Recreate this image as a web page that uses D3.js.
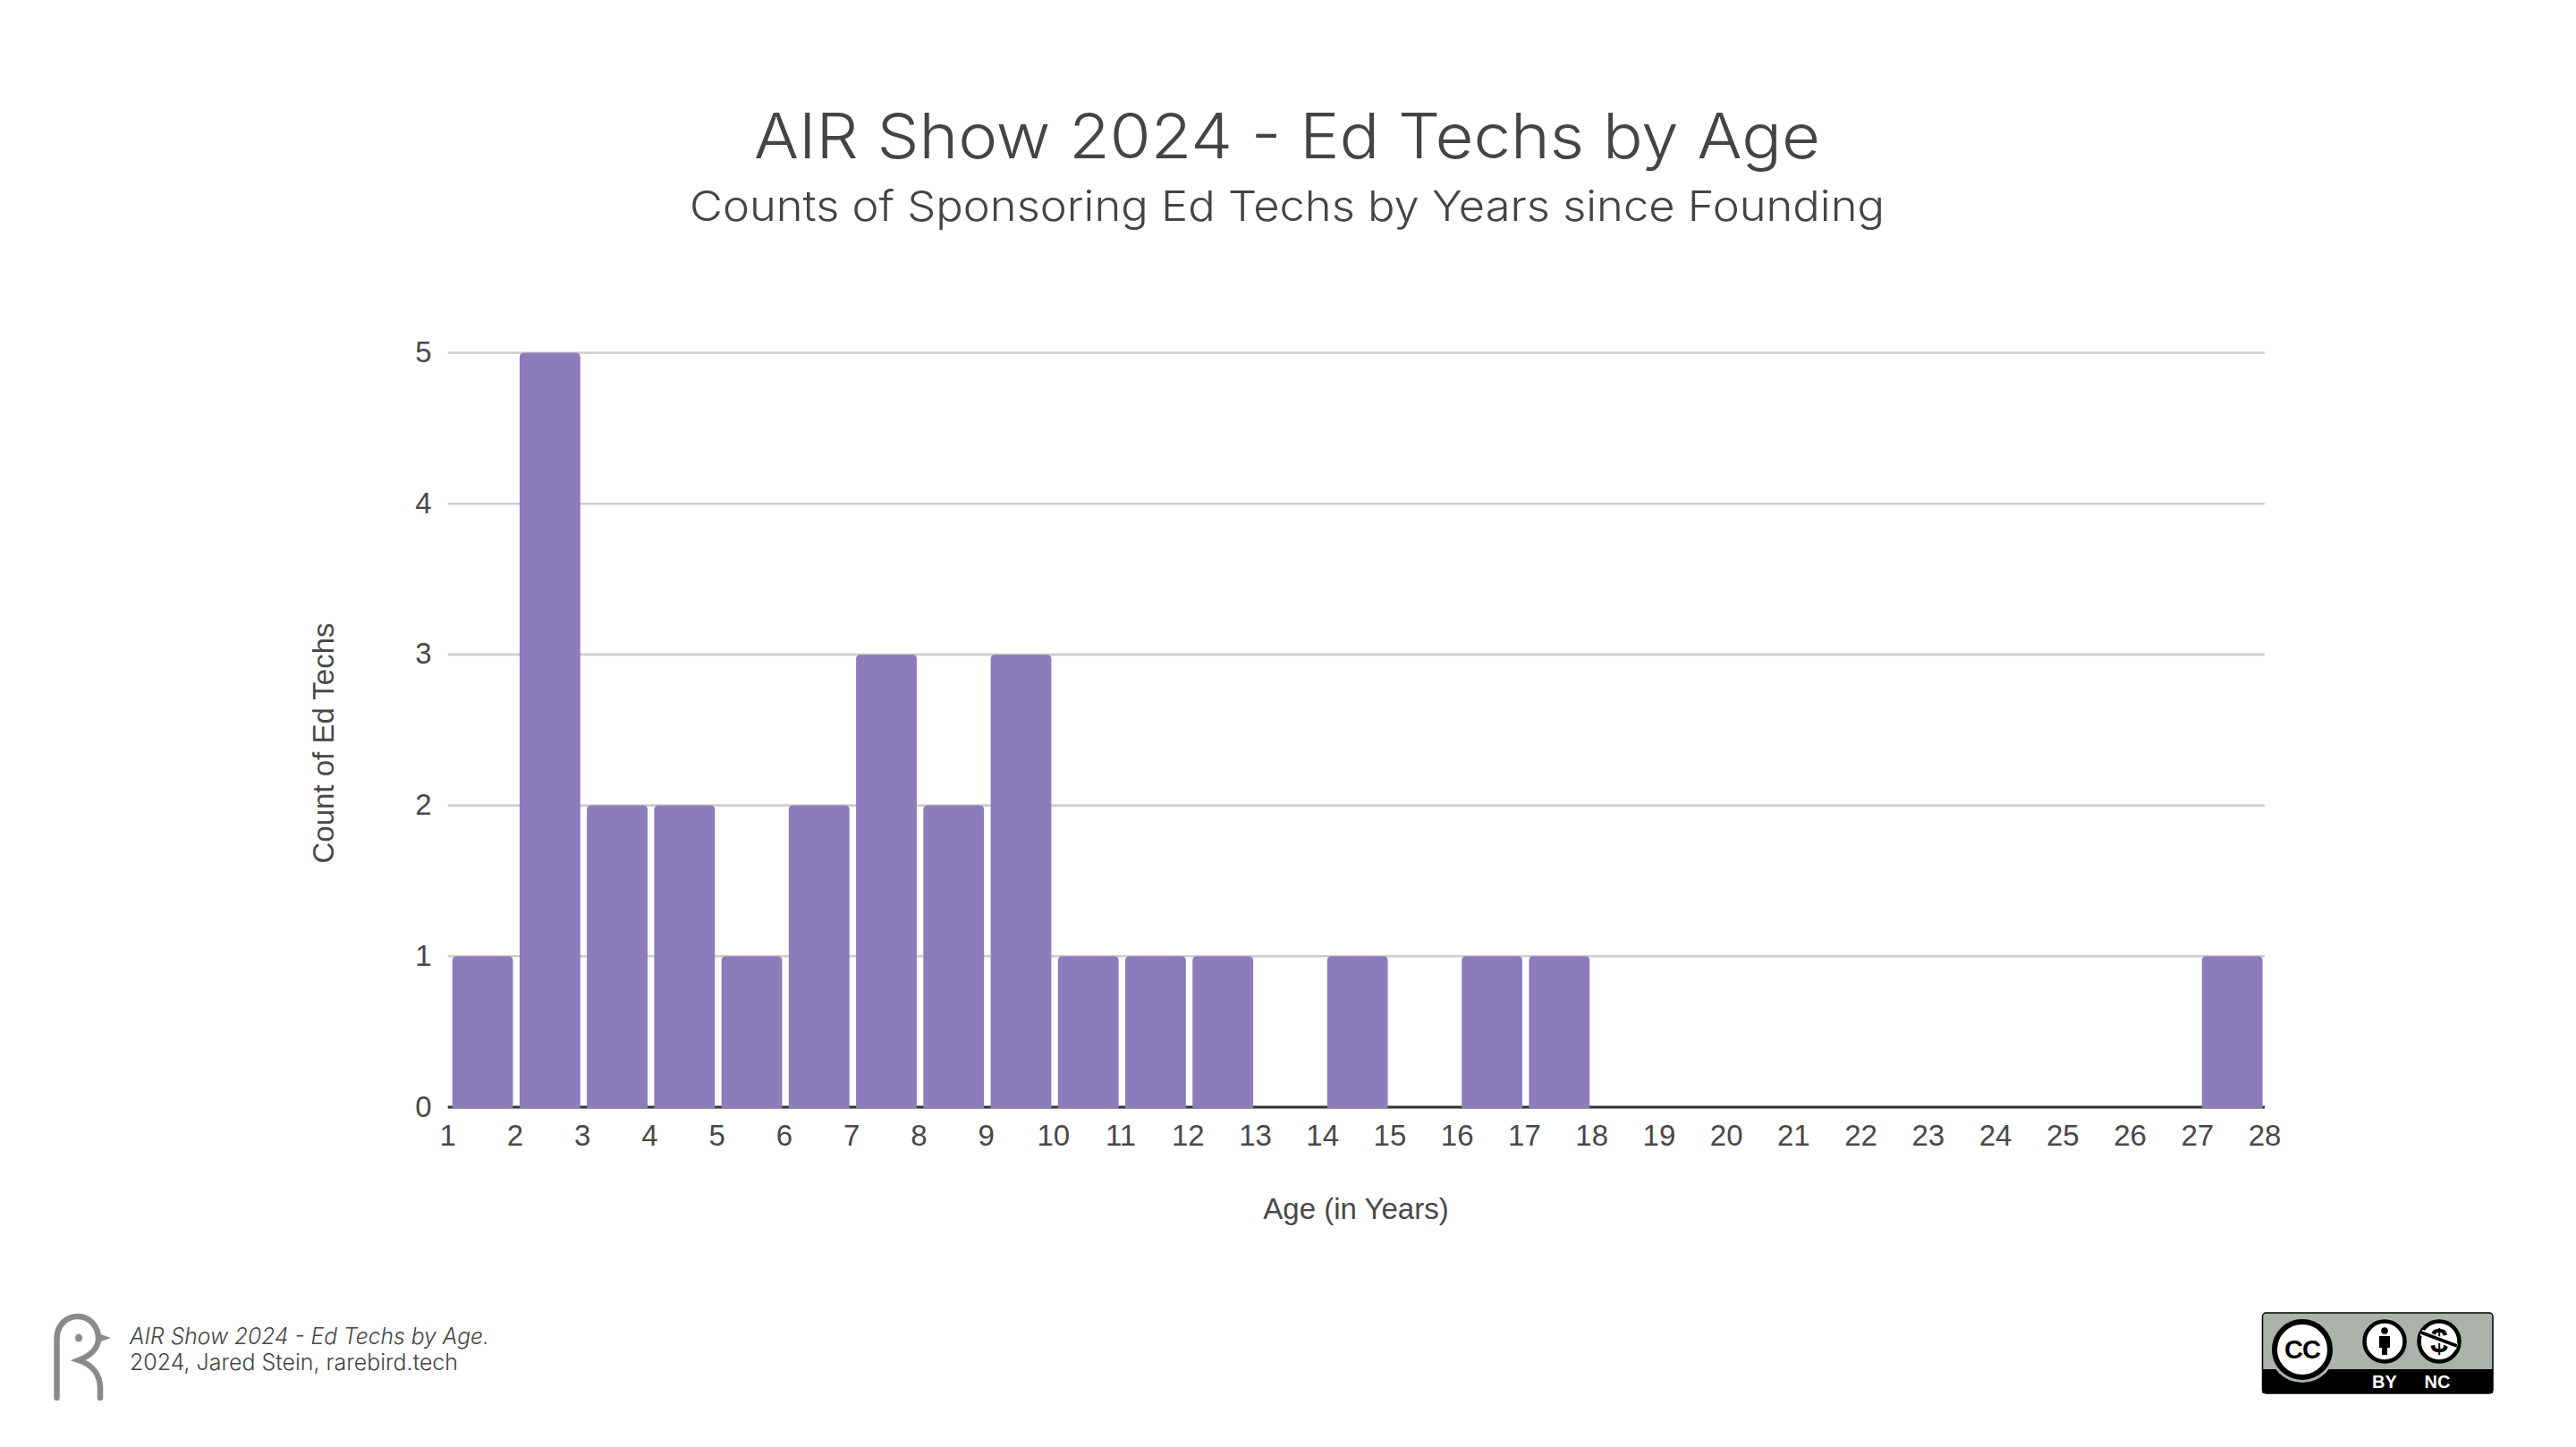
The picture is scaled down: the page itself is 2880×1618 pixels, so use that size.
<!DOCTYPE html>
<html>
<head>
<meta charset="utf-8">
<title>AIR Show 2024 - Ed Techs by Age</title>
<script src="https://cdn.jsdelivr.net/npm/d3@7"></script>
<style>
	html, body { margin: 0; padding: 0; background: #fff; }
	svg { display: block; }
	.heading { font-family: "Inter", sans-serif; font-weight: 300; fill: #444; }
	.axis text, .axis-label { font-family: "Liberation Sans", Arial, sans-serif; font-size: 33px; fill: #484848; }
	.credit { font-family: "Inter", sans-serif; font-weight: 300; font-size: 25px; fill: #444; }
	.badge-text { font-family: "Liberation Sans", Arial, sans-serif; font-weight: bold; }
</style>
</head>
<body>
<div id="chart-area"></div>
<script>
// Data: left edge of each one-year bin and its count
var ageBins = [1, 2, 3, 4, 5, 6, 7, 8, 9, 10, 11, 12, 13, 14, 15, 16, 17, 18, 19, 20, 21, 22, 23, 24, 25, 26, 27];
var edTechCounts = [1, 5, 2, 2, 1, 2, 3, 2, 3, 1, 1, 1, 0, 1, 0, 1, 1, 0, 0, 0, 0, 0, 0, 0, 0, 0, 1];
var xTickValues = [1, 2, 3, 4, 5, 6, 7, 8, 9, 10, 11, 12, 13, 14, 15, 16, 17, 18, 19, 20, 21, 22, 23, 24, 25, 26, 27, 28];
var yTickValues = [0, 1, 2, 3, 4, 5];

var chartTitle = "AIR Show 2024 - Ed Techs by Age";
var chartSubtitle = "Counts of Sponsoring Ed Techs by Years since Founding";
var xAxisLabel = "Age (in Years)";
var yAxisLabel = "Count of Ed Techs";
var creditLines = ["AIR Show 2024 - Ed Techs by Age.", "2024, Jared Stein, rarebird.tech"];

// SVG Size
var width = 2880,
	height = 1618;
var margin = {top: 394.5, right: 348, bottom: 380, left: 500.7};

var svg = d3.select("#chart-area").append("svg")
	.attr("width", width)
	.attr("height", height)
	.attr("viewBox", "0 0 " + width + " " + height);

// Title block
svg.append("text")
	.attr("class", "heading")
	.attr("x", 843)
	.attr("y", 177)
	.attr("font-size", 70)
	.attr("textLength", 1192)
	.attr("lengthAdjust", "spacingAndGlyphs")
	.text(chartTitle);
svg.append("text")
	.attr("class", "heading")
	.attr("x", 771)
	.attr("y", 247)
	.attr("font-size", 47)
	.attr("textLength", 1336)
	.attr("lengthAdjust", "spacingAndGlyphs")
	.text(chartSubtitle);

// Scales
var x = d3.scaleLinear()
	.domain([1, 28])
	.range([margin.left, width - margin.right]);
var y = d3.scaleLinear()
	.domain([0, 5])
	.range([height - margin.bottom, margin.top]);

// Gridlines and y labels
var yAxis = d3.axisLeft(y)
	.tickValues(yTickValues)
	.tickFormat(d3.format("d"))
	.tickSize(-(x.range()[1] - x.range()[0]))
	.tickPadding(18)
	.offset(0);
var yGroup = svg.append("g")
	.attr("class", "axis y-axis")
	.attr("transform", "translate(" + margin.left + ",0)")
	.call(yAxis);
yGroup.select(".domain").remove();
yGroup.selectAll(".tick line")
	.attr("stroke", "#cdcdcd")
	.attr("stroke-width", 2.6);

// x axis, the dark line along zero
var xAxis = d3.axisBottom(x)
	.tickValues(xTickValues)
	.tickFormat(d3.format("d"))
	.tickSize(0)
	.tickPadding(20)
	.offset(0);
var xGroup = svg.append("g")
	.attr("class", "axis x-axis")
	.attr("transform", "translate(0," + y(0) + ")")
	.call(xAxis);
xGroup.select(".domain")
	.attr("stroke", "#333")
	.attr("stroke-width", 3);

// Bars, rounded on the top corners only
var barInsetLeft = 5,
	barInsetRight = 2.4,
	barRadius = 5;
var barPath = function(d) {
	var x0 = x(d.age) + barInsetLeft,
		x1 = x(d.age + 1) - barInsetRight,
		top = y(d.count),
		bottom = y(0) + 1;
	return "M" + x0 + "," + bottom
		+ "V" + (top + barRadius)
		+ "Q" + x0 + "," + top + " " + (x0 + barRadius) + "," + top
		+ "H" + (x1 - barRadius)
		+ "Q" + x1 + "," + top + " " + x1 + "," + (top + barRadius)
		+ "V" + bottom + "Z";
};
var barData = ageBins.map(function(age, i) {
	return {age: age, count: edTechCounts[i]};
}).filter(function(d) {
	return d.count > 0;
});
svg.selectAll("path.bar")
	.data(barData)
	.enter()
	.append("path")
	.attr("class", "bar")
	.attr("d", barPath)
	.attr("fill", "#8c7cbc");

// Axis labels
svg.append("text")
	.attr("class", "axis-label")
	.attr("text-anchor", "middle")
	.attr("x", 1516)
	.attr("y", 1363)
	.text(xAxisLabel);
svg.append("text")
	.attr("class", "axis-label")
	.attr("text-anchor", "middle")
	.attr("transform", "translate(373,831) rotate(-90)")
	.text(yAxisLabel);

// Credit at bottom left
svg.append("text")
	.attr("class", "credit")
	.attr("x", 145)
	.attr("y", 1503)
	.attr("font-style", "italic")
	.attr("textLength", 402)
	.attr("lengthAdjust", "spacingAndGlyphs")
	.text(creditLines[0]);
svg.append("text")
	.attr("class", "credit")
	.attr("x", 145)
	.attr("y", 1532)
	.attr("textLength", 367)
	.attr("lengthAdjust", "spacingAndGlyphs")
	.text(creditLines[1]);

// Bird logo
var logo = svg.append("g").attr("fill", "none").attr("stroke", "#8a8a8a").attr("stroke-width", 6.5).attr("stroke-linecap", "round");
logo.append("path")
	.attr("d", "M63.5,1563V1497C63.5,1482 74,1472 87,1472C100,1472 110,1483 110,1497C110,1506 103,1515 88,1521C103,1526 112,1537 112,1552V1563");
svg.append("path").attr("d", "M110,1491L124,1496L110,1501Z").attr("fill", "#8a8a8a");
svg.append("ellipse").attr("cx", 88).attr("cy", 1496).attr("rx", 4).attr("ry", 4.5).attr("fill", "#8a8a8a");

// CC BY-NC badge
var badge = svg.append("g");
badge.append("rect").attr("x", 2529.5).attr("y", 1468).attr("width", 257.5).attr("height", 90).attr("rx", 4).attr("fill", "#aab2ab").attr("stroke", "#000").attr("stroke-width", 1.5);
badge.append("rect").attr("x", 2529.5).attr("y", 1531).attr("width", 257.5).attr("height", 27).attr("fill", "#000");
badge.append("circle").attr("cx", 2574).attr("cy", 1509).attr("r", 37).attr("fill", "#aab2ab");
badge.append("circle").attr("cx", 2574).attr("cy", 1509).attr("r", 31).attr("fill", "#fff").attr("stroke", "#000").attr("stroke-width", 6);
badge.append("text").attr("class", "badge-text").attr("x", 2574).attr("y", 1519).attr("text-anchor", "middle").attr("font-size", 29).attr("letter-spacing", -1).text("CC");
[2666, 2727].forEach(function(cx) {
	badge.append("circle").attr("cx", cx).attr("cy", 1500).attr("r", 22.5).attr("fill", "#fff").attr("stroke", "#000").attr("stroke-width", 4.5);
});
badge.append("circle").attr("cx", 2666).attr("cy", 1488).attr("r", 3.8).attr("fill", "#000");
badge.append("path").attr("d", "M2660,1494H2672V1507H2669V1515H2663V1507H2660Z").attr("fill", "#000");
badge.append("text").attr("class", "badge-text").attr("x", 2727).attr("y", 1512).attr("text-anchor", "middle").attr("font-size", 36).text("$");
badge.append("line").attr("x1", 2707).attr("y1", 1490).attr("x2", 2747).attr("y2", 1506).attr("stroke", "#fff").attr("stroke-width", 7);
badge.append("line").attr("x1", 2707).attr("y1", 1490).attr("x2", 2747).attr("y2", 1505).attr("stroke", "#000").attr("stroke-width", 3.5);
badge.append("text").attr("class", "badge-text").attr("x", 2666).attr("y", 1552).attr("text-anchor", "middle").attr("font-size", 20).attr("fill", "#fff").text("BY");
badge.append("text").attr("class", "badge-text").attr("x", 2725).attr("y", 1552).attr("text-anchor", "middle").attr("font-size", 20).attr("fill", "#fff").text("NC");
</script>
</body>
</html>
